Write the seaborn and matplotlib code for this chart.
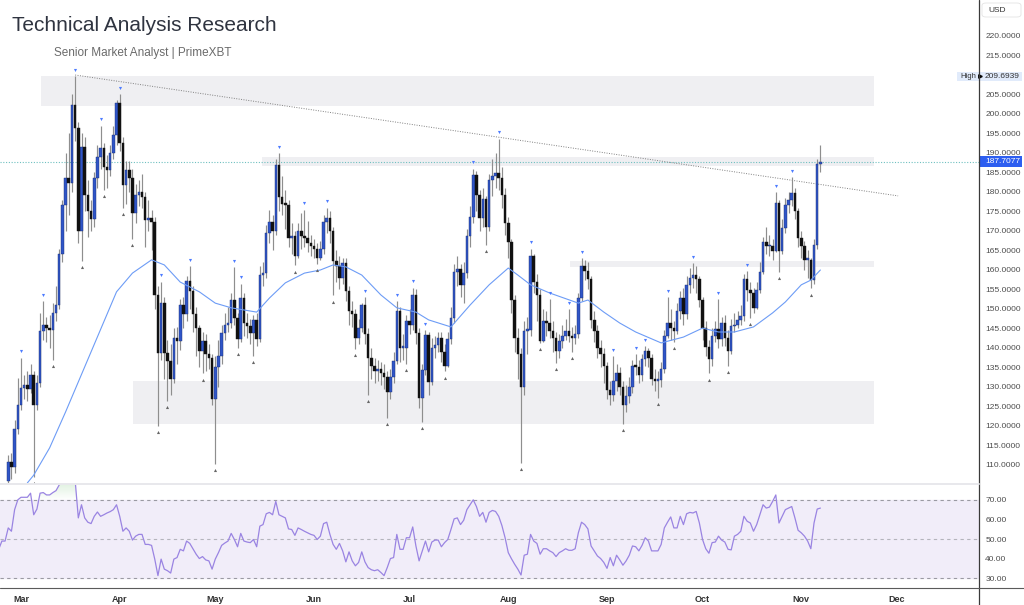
import numpy as np
import pandas as pd
import matplotlib
matplotlib.use('Agg')
import matplotlib.pyplot as plt
import matplotlib.dates as mdates
from matplotlib.lines import Line2D
from matplotlib.patches import Rectangle, FancyBboxPatch
from matplotlib.path import Path
from matplotlib.transforms import blended_transform_factory
import seaborn as sns

sns.set_theme(style='white')
plt.rcParams['font.family'] = ['Liberation Sans', 'DejaVu Sans']

# Daily candles from 2024-02-26 (open of each day = previous close)
first_open = 106.0
closes = [
    110.8, 109.5, 119.3, 125.4, 129.8, 130.5, 129.5, 133.0, 125.4, 131.0,
    144.4, 146.0, 145.2, 144.5, 149.0, 151.0, 164.0, 176.7, 183.6, 182.2,
    202.3, 196.3, 170.0, 191.6, 179.2, 175.0, 173.0, 183.6, 189.0, 191.2,
    186.5, 185.6, 190.0, 194.6, 202.7, 192.5, 181.8, 185.6, 183.5, 174.6,
    179.2, 180.1, 178.8, 172.9, 173.3, 172.4, 153.7, 138.8, 151.6, 138.8,
    136.7, 132.0, 142.6, 141.8, 151.1, 148.6, 157.1, 154.6, 148.6, 145.2,
    139.2, 141.8, 138.4, 137.5, 127.0, 135.0, 138.0, 143.9, 146.0, 146.5,
    152.4, 147.7, 142.2, 152.9, 146.5, 145.6, 143.9, 147.3, 142.2, 158.8,
    159.3, 169.5, 172.4, 170.0, 186.9, 178.8, 177.0, 176.7, 168.2, 168.6,
    163.6, 169.9, 168.6, 168.2, 167.0, 166.1, 165.3, 163.2, 165.3, 172.4,
    173.3, 169.9, 162.3, 161.0, 158.0, 161.8, 154.6, 149.4, 148.6, 142.6,
    145.2, 151.1, 143.5, 137.5, 135.4, 134.2, 134.6, 133.7, 132.5, 128.7,
    132.5, 136.7, 149.4, 140.1, 140.1, 146.9, 146.0, 153.7, 143.8, 127.2,
    134.4, 143.3, 131.3, 140.0, 140.8, 142.5, 139.0, 135.5, 142.2, 147.7,
    159.6, 160.3, 156.2, 159.3, 168.6, 173.7, 184.4, 179.2, 173.3, 178.3,
    171.1, 183.1, 184.0, 184.8, 183.5, 179.2, 172.0, 167.3, 152.4, 142.6,
    138.4, 129.9, 144.4, 144.6, 163.6, 156.9, 153.7, 141.8, 146.9, 146.5,
    144.4, 142.6, 139.2, 141.8, 143.1, 144.4, 143.1, 142.6, 143.5, 152.9,
    161.0, 159.7, 157.6, 147.3, 144.4, 140.1, 138.4, 135.4, 129.2, 127.9,
    131.5, 133.7, 129.9, 125.3, 127.8, 129.9, 135.4, 135.2, 133.0, 137.1,
    139.2, 137.5, 132.1, 131.6, 131.7, 134.6, 143.1, 146.5, 145.2, 144.4,
    149.4, 152.9, 148.6, 156.2, 157.9, 158.8, 157.6, 152.4, 145.2, 140.3,
    137.1, 143.1, 144.8, 142.2, 146.5, 142.6, 139.2, 145.6, 146.0, 147.3,
    148.2, 157.6, 154.9, 154.0, 150.2, 154.9, 159.6, 167.3, 166.1, 166.1,
    164.8, 177.1, 164.8, 170.7, 176.7, 177.9, 179.7, 175.0, 168.2, 166.1,
    162.6, 162.6, 157.5, 166.5, 187.1, 187.7,
]
highs = [
    112.5, 113.0, 121.5, 132.3, 137.5, 133.0, 134.0, 136.0, 134.0, 133.0,
    149.0, 152.0, 148.0, 148.5, 151.5, 156.0, 165.5, 178.0, 190.0, 195.0,
    205.0, 209.7, 198.0, 195.0, 194.0, 183.0, 178.0, 185.0, 192.0, 197.0,
    192.5, 189.5, 192.0, 197.0, 203.5, 205.0, 194.0, 188.0, 188.0, 186.0,
    182.0, 183.0, 184.5, 180.0, 178.0, 175.5, 173.5, 156.0, 157.0, 153.0,
    142.0, 141.0, 145.0, 145.5, 152.5, 153.0, 158.5, 161.0, 156.0, 150.5,
    146.0, 144.0, 143.5, 141.0, 138.5, 138.0, 142.0, 146.0, 149.0, 150.5,
    154.0, 160.8, 149.0, 156.5, 154.0, 149.0, 147.5, 148.5, 149.0, 161.0,
    162.0, 171.5, 175.5, 174.0, 188.5, 190.0, 184.0, 180.5, 178.0, 172.0,
    170.0, 172.0, 174.5, 175.5, 172.5, 169.0, 168.0, 167.0, 167.5, 174.0,
    176.0, 175.0, 171.0, 165.0, 163.5, 163.0, 163.0, 156.0, 152.0, 150.0,
    147.5, 151.5, 153.0, 145.0, 140.0, 137.5, 137.0, 136.5, 136.0, 134.0,
    134.5, 139.0, 152.0, 150.5, 143.5, 148.5, 150.0, 155.5, 155.0, 145.0,
    136.0, 144.5, 144.0, 142.5, 143.0, 144.0, 144.0, 141.0, 144.0, 150.5,
    161.5, 163.5, 161.5, 162.0, 170.5, 176.5, 186.0, 185.5, 180.5, 181.0,
    179.0, 184.5, 188.5, 190.0, 193.7, 186.5, 181.0, 173.5, 168.0, 153.5,
    145.0, 140.0, 147.0, 148.0, 165.5, 164.0, 159.0, 155.0, 150.0, 149.5,
    152.5, 147.0, 144.0, 143.5, 146.0, 147.5, 149.9, 145.5, 146.0, 154.0,
    163.0, 162.5, 162.0, 158.5, 149.5, 146.0, 142.0, 140.0, 136.5, 131.5,
    138.0, 136.0, 135.0, 131.5, 130.5, 132.5, 137.0, 138.5, 137.0, 138.5,
    140.5, 140.0, 138.5, 134.5, 134.0, 136.5, 144.5, 153.0, 150.0, 147.0,
    151.5, 154.5, 155.5, 158.5, 160.5, 161.8, 161.0, 158.5, 153.0, 147.0,
    142.0, 145.0, 147.0, 152.5, 148.0, 148.5, 144.5, 147.5, 149.0, 149.5,
    151.0, 159.0, 159.8, 157.0, 155.5, 157.0, 162.0, 168.5, 171.0, 169.0,
    168.0, 180.0, 178.0, 173.0, 178.5, 180.0, 183.8, 181.0, 176.0, 170.0,
    167.5, 165.0, 163.0, 168.0, 188.5, 192.0,
]
lows = [
    103.5, 106.5, 108.0, 118.0, 124.0, 127.0, 126.5, 128.5, 107.0, 124.0,
    130.0, 142.0, 141.5, 140.0, 137.0, 147.0, 150.0, 162.0, 170.0, 174.0,
    180.0, 193.0, 167.0, 162.3, 175.0, 168.5, 170.0, 171.0, 181.0, 186.0,
    180.5, 181.0, 184.0, 188.5, 192.0, 190.5, 176.0, 177.0, 180.0, 168.0,
    172.0, 176.5, 176.0, 166.0, 170.0, 165.0, 150.0, 120.0, 137.0, 132.0,
    126.5, 128.0, 131.0, 136.0, 139.5, 145.0, 147.0, 150.0, 144.0, 138.0,
    135.0, 133.5, 134.0, 134.5, 125.5, 110.2, 130.0, 136.0, 142.0, 144.0,
    145.0, 146.0, 140.0, 141.5, 143.0, 142.5, 141.0, 138.0, 140.5, 141.5,
    156.0, 158.0, 167.0, 165.0, 169.0, 175.0, 174.0, 170.5, 166.0, 164.0,
    161.2, 163.0, 165.5, 166.0, 164.5, 163.5, 163.0, 161.5, 162.5, 164.0,
    169.5, 167.0, 153.5, 157.0, 155.0, 156.5, 152.0, 146.0, 145.5, 139.8,
    141.0, 144.0, 141.0, 128.0, 132.0, 131.0, 131.5, 130.5, 129.5, 122.0,
    127.0, 131.0, 136.0, 136.5, 137.0, 136.0, 143.5, 144.5, 141.0, 124.5,
    121.0, 133.0, 128.0, 130.5, 137.5, 139.0, 136.5, 134.0, 135.0, 141.0,
    146.5, 156.0, 153.0, 151.5, 158.0, 166.0, 172.0, 175.0, 170.0, 171.0,
    166.5, 170.0, 179.0, 181.0, 180.5, 176.0, 169.0, 163.0, 149.0, 139.0,
    132.0, 110.5, 128.0, 138.5, 143.0, 154.0, 147.0, 141.3, 141.5, 143.0,
    142.5, 139.0, 136.2, 137.5, 140.0, 142.0, 141.5, 139.0, 141.0, 142.5,
    152.0, 157.5, 155.0, 145.0, 141.5, 137.5, 135.0, 131.0, 127.0, 125.5,
    126.5, 129.0, 128.0, 120.5, 123.5, 126.0, 128.5, 133.0, 131.0, 131.5,
    135.5, 135.0, 130.5, 129.0, 127.3, 130.0, 133.5, 142.5, 142.0, 141.5,
    143.5, 147.5, 146.0, 147.5, 154.0, 155.5, 154.0, 150.5, 142.0, 138.0,
    133.5, 135.5, 141.5, 140.0, 140.5, 140.5, 135.5, 138.5, 144.0, 145.0,
    146.0, 147.0, 152.0, 147.8, 149.0, 150.0, 154.0, 159.0, 164.0, 163.5,
    162.5, 164.5, 159.5, 164.0, 169.5, 174.5, 176.5, 173.0, 166.0, 163.0,
    160.0, 158.0, 155.3, 156.5, 165.5, 185.0,
]

# swing-point markers, as days after 1 March
pivot_high_days = [0, 7, 17, 25, 31, 44, 53, 67, 69, 81, 89, 96, 108, 118, 123, 127,
                   142, 150, 160, 166, 172, 176, 186, 193, 196, 203, 211, 219, 228, 237, 242]
pivot_low_days = [4, 10, 19, 26, 32, 35, 43, 46, 57, 61, 68, 73, 86, 93, 98, 105, 109,
                  115, 121, 126, 133, 146, 157, 163, 168, 173, 189, 200, 205, 216, 222,
                  229, 238, 248]

# moving average (days after 1 March, value)
ma_days = [2, 4, 9, 14, 18, 22, 26, 30, 35, 41, 45, 50, 56, 61, 66, 74, 78, 83, 89, 94,
           98, 102, 107, 113, 118, 124, 128, 135, 141, 147, 153, 156, 160, 166, 175, 178,
           183, 188, 193, 201, 208, 214, 219, 224, 230, 236, 240, 245, 248, 251]
ma_vals = [105.4, 107.4, 114.4, 123.6, 131.3, 139.0, 146.7, 154.4, 159.2, 162.6, 161.3,
           156.9, 154.4, 151.5, 150.3, 149.2, 152.8, 156.7, 159.2, 160.0, 161.3, 160.8,
           158.7, 153.6, 150.3, 149.2, 147.2, 145.4, 151.0, 156.2, 160.5, 158.7, 156.2,
           154.1, 151.5, 152.3, 149.2, 146.4, 144.1, 141.3, 142.8, 145.1, 144.1, 144.1,
           145.4, 149.0, 151.8, 156.2, 157.4, 160.0]

# daily RSI from 2024-02-23
rsi_vals = [
    44.8, 49.0, 49.0, 55.7, 54.0, 65.0, 70.0, 71.3, 71.3, 71.3,
    73.4, 62.4, 65.3, 73.4, 73.7, 72.5, 72.5, 73.7, 74.7, 77.6,
    82.0, 84.0, 82.0, 86.0, 80.0, 60.8, 67.5, 60.8, 58.6, 57.9,
    61.6, 63.8, 61.6, 62.4, 63.3, 64.0, 65.0, 67.5, 61.6, 54.0,
    55.7, 54.0, 49.5, 51.5, 52.4, 52.4, 47.3, 47.3, 46.8, 39.8,
    31.4, 39.8, 34.7, 33.9, 32.7, 39.8, 40.6, 44.8, 44.0, 49.0,
    47.8, 45.1, 42.3, 40.1, 41.1, 39.4, 38.9, 34.7, 39.8, 43.1,
    46.8, 48.0, 49.0, 52.9, 49.8, 46.1, 52.9, 49.0, 48.5, 48.2,
    49.8, 46.1, 56.6, 57.4, 62.9, 63.6, 62.4, 69.2, 62.4, 61.6,
    60.8, 55.2, 54.9, 51.9, 55.7, 54.9, 54.0, 53.2, 52.4, 51.9,
    49.8, 51.5, 57.9, 58.6, 52.4, 47.3, 44.8, 47.8, 44.0, 38.4,
    43.5, 38.9, 36.4, 38.1, 43.5, 38.4, 35.5, 34.4, 33.9, 34.4,
    33.0, 31.4, 35.5, 40.1, 40.6, 52.4, 44.8, 44.8, 50.7, 50.7,
    56.2, 46.5, 38.9, 44.0, 49.0, 43.5, 48.5, 49.5, 49.5, 46.1,
    48.2, 49.8, 54.9, 60.3, 60.8, 57.4, 59.6, 65.0, 67.5, 70.0,
    66.6, 61.6, 63.6, 58.6, 63.6, 64.6, 64.1, 61.6, 56.9, 50.7,
    43.1, 40.0, 37.2, 34.7, 31.7, 41.8, 42.3, 52.4, 49.0, 47.8,
    42.3, 45.1, 45.1, 44.0, 43.1, 41.1, 43.1, 44.0, 45.1, 44.3,
    44.3, 45.1, 53.2, 58.6, 57.4, 55.2, 46.5, 44.0, 41.4, 40.1,
    38.1, 35.1, 40.6, 36.4, 41.8, 39.4, 36.7, 38.9, 41.8, 46.5,
    46.1, 44.0, 46.8, 50.7, 49.0, 44.0, 44.0, 44.0, 47.3, 55.7,
    58.6, 61.3, 55.7, 55.7, 61.6, 57.4, 62.9, 63.6, 63.3, 64.1,
    58.2, 49.8, 45.1, 42.8, 48.2, 48.5, 51.5, 49.5, 48.5, 44.8,
    44.5, 51.5, 52.4, 54.0, 61.6, 59.1, 58.2, 54.0, 57.4, 62.4,
    67.5, 65.8, 66.3, 69.2, 72.5, 58.2, 61.6, 65.0, 65.8, 66.6,
    60.8, 54.5, 53.2, 51.5, 49.0, 45.1, 58.2, 65.3, 65.8,
]

# drawn levels
zone_start_days = [6.3, 75.7, 172.4, 35.2]
zone_end_days = [267.8, 267.8, 267.8, 267.8]
zone_lows = [202.0, 186.7, 160.8, 120.5]
zone_highs = [209.7, 189.0, 162.3, 131.5]
trend_days = [17.0, 275.4]
trend_prices = [210.0, 179.0]
high_value = 209.6939
last_price = 187.7077

price_ticks = [110, 115, 120, 125, 130, 135, 140, 145, 150, 155, 160, 165, 170, 175,
               180, 185, 190, 195, 200, 205, 215, 220]
rsi_ticks = [30, 40, 50, 60, 70]

mar1 = pd.Timestamp('2024-03-01')
dates = pd.date_range('2024-02-26', periods=len(closes), freq='D')
x = mdates.date2num(dates)
o = np.array([first_open] + closes[:-1])
c = np.array(closes)
h = np.maximum(np.array(highs), np.maximum(o, c))
l = np.minimum(np.array(lows), np.minimum(o, c))

def day_num(d):
    return mdates.date2num(mar1) + np.asarray(d, dtype=float)

W, H = 1024, 605
fig = plt.figure(figsize=(W / 100, H / 100), dpi=100)
ax = fig.add_axes([0, (H - 483) / H, 979 / W, 483 / H])
ax_rsi = fig.add_axes([0, (H - 587) / H, 979 / W, 103 / H])

xlim = (day_num(-6.59), day_num(300.8))

# zones
for s, e, lo, hi in zip(zone_start_days, zone_end_days, zone_lows, zone_highs):
    ax.add_patch(Rectangle((day_num(s), lo), day_num(e) - day_num(s), hi - lo,
                           facecolor='#efeff2', edgecolor='none', zorder=0))

ax.axhline(last_price, color='#6fc0c0', lw=0.8, ls=(0, (1, 1.5)), zorder=1)
ax.plot(day_num(trend_days), trend_prices, color='#808080', lw=0.7, ls=(0, (1, 1.5)), zorder=1)

# candles
up = c >= o
ax.vlines(x, l, h, color='#8e8e8e', lw=0.85, zorder=2)
bottom = np.minimum(o, c)
height = np.maximum(np.abs(c - o), 0.35)
ax.bar(x[up], height[up], bottom=bottom[up], width=0.8, color='#2f55c8',
       edgecolor='#1c2f70', linewidth=0.3, zorder=3)
ax.bar(x[~up], height[~up], bottom=bottom[~up], width=0.8, color='#111111',
       edgecolor='#111111', linewidth=0.3, zorder=3)

ph = np.array(pivot_high_days) + 4
pl = np.array(pivot_low_days) + 4
ax.scatter(x[ph], h[ph] + 1.6, marker='v', s=5, color='#4d7cff', linewidths=0, zorder=4)
ax.scatter(x[pl], l[pl] - 1.6, marker='^', s=5, color='#666666', linewidths=0, zorder=4)

sns.lineplot(x=day_num(ma_days), y=ma_vals, ax=ax, color='#6d9cf6', lw=0.8, zorder=3)

ax.set_xlim(*xlim)
ax.set_ylim(105.38, 229.23)
ax.set_xticks([])
ax.yaxis.tick_right()
ax.set_yticks(price_ticks)
ax.set_yticklabels([f'{t:.4f}' for t in price_ticks])
ax.tick_params(axis='y', length=0, pad=4.5, labelsize=6, labelcolor='#4d4d4d')
for sp in ax.spines.values():
    sp.set_visible(False)

# labels on the price scale
blend = blended_transform_factory(ax.transAxes, ax.transData)
ax.add_patch(Rectangle((957 / 979, high_value - 1.15), 65 / 979, 2.3, transform=blend,
                       facecolor='#e1ebfb', edgecolor='none', clip_on=False, zorder=5))
ax.text(960 / 979, high_value, 'High', transform=blend, ha='left', va='center',
        fontsize=5.5, color='#333333', clip_on=False, zorder=6)
ax.plot([1.0 + 1 / 979], [high_value], marker='>', ms=2.5, color='black',
        transform=blend, clip_on=False, zorder=6)
ax.text(985 / 979, high_value, f'{high_value:.4f}', transform=blend, ha='left',
        va='center', fontsize=6, color='#333333', clip_on=False, zorder=6)
ax.add_patch(Rectangle((980 / 979, last_price - 1.4), 42 / 979, 2.8, transform=blend,
                       facecolor='#2d5ef0', edgecolor='none', clip_on=False, zorder=5))
ax.text(985 / 979, last_price, f'{last_price:.4f}', transform=blend, ha='left',
        va='center', fontsize=6, color='white', clip_on=False, zorder=6)

# RSI panel
rsi_dates = pd.date_range('2024-02-23', periods=len(rsi_vals), freq='D')
rx = mdates.date2num(rsi_dates)
ry = np.array(rsi_vals)
ax_rsi.axhspan(30, 70, color='#f1edf9', zorder=0)
ax_rsi.axhline(70, color='#9a9aa2', lw=0.8, ls=(0, (3, 3)), zorder=1)
ax_rsi.axhline(50, color='#b4b4bc', lw=0.8, ls=(0, (3, 3)), zorder=1)
ax_rsi.axhline(30, color='#9a9aa2', lw=0.8, ls=(0, (3, 3)), zorder=1)
poly = ax_rsi.fill_between(rx, 70, ry, where=ry > 70, interpolate=True,
                           facecolor='none', edgecolor='none')
paths = poly.get_paths()
if paths:
    grad = np.zeros((100, 1, 4))
    grad[:, 0, 0] = 0.62
    grad[:, 0, 1] = 0.84
    grad[:, 0, 2] = 0.62
    grad[:, 0, 3] = np.linspace(0.0, 0.75, 100)
    im = ax_rsi.imshow(grad, extent=[rx[0], rx[-1], 70, 90], origin='lower',
                       aspect='auto', zorder=1)
    im.set_clip_path(Path.make_compound_path(*paths), transform=ax_rsi.transData)
sns.lineplot(x=rx, y=ry, ax=ax_rsi, color='#9a84e2', lw=0.9, zorder=3)
ax_rsi.set_xlim(*xlim)
ax_rsi.set_ylim(25.6, 78.07)
ax_rsi.yaxis.tick_right()
ax_rsi.set_yticks(rsi_ticks)
ax_rsi.set_yticklabels([f'{t:.2f}' for t in rsi_ticks])
ax_rsi.tick_params(axis='y', length=0, pad=4.5, labelsize=6, labelcolor='#4d4d4d')
ax_rsi.xaxis.set_major_locator(mdates.MonthLocator(bymonthday=1))
ax_rsi.xaxis.set_major_formatter(mdates.DateFormatter('%b'))
ax_rsi.tick_params(axis='x', length=0, pad=5.5, labelsize=6.5, labelcolor='#333333')
for lab in ax_rsi.get_xticklabels():
    lab.set_fontweight('bold')
for sp in ax_rsi.spines.values():
    sp.set_visible(False)

# frame lines
fig.add_artist(Line2D([979 / W, 979 / W], [0, 1], transform=fig.transFigure,
                      color='#3a3a3a', lw=0.9))
fig.add_artist(Line2D([0, 1], [(H - 587.5) / H] * 2, transform=fig.transFigure,
                      color='#5a5a5a', lw=0.8))
fig.add_artist(Line2D([0, 979 / W], [(H - 483.5) / H] * 2, transform=fig.transFigure,
                      color='#e8e8ec', lw=1.4))

# currency box
fig.add_artist(FancyBboxPatch((982 / W, 1 - 17 / H), 39 / W, 14 / H,
                              boxstyle='round,pad=0,rounding_size=0.004',
                              transform=fig.transFigure, facecolor='white',
                              edgecolor='#e3e3e3', lw=0.6))
fig.text(988 / W, 1 - 10 / H, 'USD', ha='left', va='center', fontsize=6, color='#333333')

fig.text(12 / W, 1 - 31 / H, 'Technical Analysis Research', ha='left', va='baseline',
         fontsize=15, color='#2f3440')
fig.text(54 / W, 1 - 56 / H, 'Senior Market Analyst | PrimeXBT', ha='left', va='baseline',
         fontsize=8.5, color='#6b6b6b')

fig.savefig('out.png', dpi=100)
